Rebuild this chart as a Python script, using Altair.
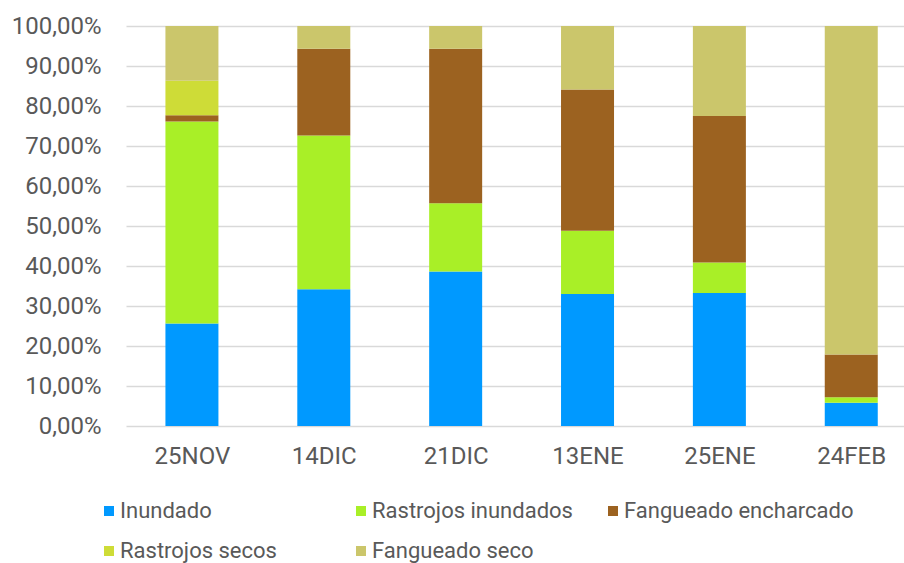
import altair as alt
import pandas as pd

categories = ["25NOV", "14DIC", "21DIC", "13ENE", "25ENE", "24FEB"]
series = ["Inundado", "Rastrojos inundados", "Fangueado encharcado", "Rastrojos secos", "Fangueado seco"]
colors = ["#0099FF", "#A9EF27", "#9C6220", "#CEDC37", "#CBC66B"]

inundado = [25.6, 34.2, 38.6, 33.0, 33.25, 5.8]
rastrojos_inundados = [50.5, 38.4, 17.1, 15.8, 7.65, 1.4]
fangueado_encharcado = [1.6, 21.7, 38.6, 35.3, 36.6, 10.7]
rastrojos_secos = [8.6, 0.0, 0.0, 0.0, 0.0, 0.0]
fangueado_seco = [13.7, 5.7, 5.7, 15.9, 22.5, 82.1]

values = [inundado, rastrojos_inundados, fangueado_encharcado, rastrojos_secos, fangueado_seco]

rows = []
for si, (s, vals) in enumerate(zip(series, values)):
    for ci, (c, v) in enumerate(zip(categories, vals)):
        rows.append({"cat": c, "idx": ci, "serie": s, "order": si, "value": v})
df = pd.DataFrame(rows)

label_expr = "[" + ",".join("'" + c + "'" for c in categories) + "][datum.value]"

font = "Roboto"
grey = "#595959"

chart = alt.Chart(df).mark_bar(size=53).encode(
    x=alt.X("idx:Q",
            scale=alt.Scale(domain=[-0.5, 5.4], nice=False, zero=False, padding=0),
            axis=alt.Axis(title=None, values=list(range(len(categories))), labelExpr=label_expr,
                          grid=False, ticks=False, domain=False, labelPadding=18,
                          labelFontSize=24, labelFont=font, labelColor=grey)),
    y=alt.Y("value:Q", stack="normalize",
            scale=alt.Scale(domain=[0, 1], nice=False),
            axis=alt.Axis(title=None, values=[i / 10 for i in range(11)],
                          labelExpr="replace(format(datum.value, '.2%'), '.', ',')",
                          grid=True, gridColor="#D9D9D9", gridWidth=1.5,
                          ticks=False, domain=False, labelPadding=25,
                          labelFontSize=24, labelFont=font, labelColor=grey)),
    color=alt.Color("serie:N",
                    scale=alt.Scale(domain=series, range=colors),
                    legend=alt.Legend(title=None, orient="none", legendX=-28, legendY=474,
                                      direction="horizontal", columns=3, gridAlign="all",
                                      columnPadding=-9, rowPadding=18, padding=0,
                                      symbolType="square", symbolSize=100, symbolStrokeWidth=0,
                                      symbolOffset=0, labelOffset=0,
                                      labelFontSize=22, labelFont=font, labelColor=grey,
                                      labelLimit=400)),
    order=alt.Order("order:Q", sort="ascending"),
).properties(
    width=778, height=400,
    autosize="none",
    padding={"left": 126, "top": 26, "right": 0, "bottom": 137},
).configure_view(stroke=None)

chart.save("out.html", embed_options={"renderer": "svg", "actions": False})
